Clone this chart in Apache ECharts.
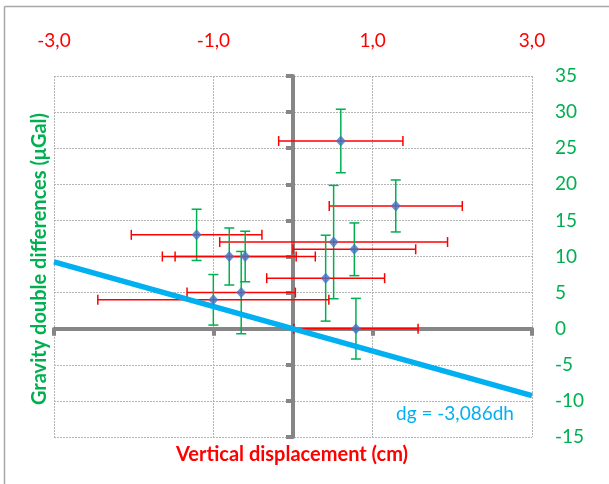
<!DOCTYPE html>
<html>
<head>
<meta charset="utf-8">
<script src="https://cdn.jsdelivr.net/npm/echarts@6/dist/echarts.min.js"></script>
<style>
  html, body { margin: 0; padding: 0; background: #fff; }
  #chart { width: 609px; height: 484px; }
</style>
</head>
<body>
<div id="chart"></div>
<script>
// vertical displacement (cm) and its error
const dh    = [0.60, 1.29, -1.21, 0.51, 0.77, -0.80, -0.60, 0.41, -0.65, -1.00, 0.79];
const dhErr = [0.78, 0.835, 0.82, 1.43, 0.77, 0.84, 0.88, 0.74, 0.68, 1.45, 0.78];
// gravity double differences (uGal) and its error
const dg    = [26, 17, 13, 12, 11, 10, 10, 7, 5, 4, 0];
const dgErr = [4.4, 3.6, 3.55, 7.85, 3.65, 3.95, 3.5, 5.95, 5.7, 3.5, 4.2];
// fitted line dg = slope * dh
const slope = -3.086;
const fitX = [-3, 3];

const RED = '#ff0000', GREEN = '#00b050', GRAY = '#868686';
const FONT = 'Lato';

let points = dh.map((x, i) => [x, dg[i], dhErr[i], dgErr[i]]);
let fitLine = fitX.map(x => [x, slope * x]);

let chart = echarts.init(document.getElementById('chart'));

//画误差棒
function renderErr(params, api) {
    let x = api.value(0), y = api.value(1), ex = api.value(2), ey = api.value(3);
    let c = api.coord([x, y]);
    let l = api.coord([x - ex, y]), r = api.coord([x + ex, y]);
    let t = api.coord([x, y + ey]), b = api.coord([x, y - ey]);
    let cap = 5;
    let red = { stroke: RED, lineWidth: 1.5 };
    let green = { stroke: GREEN, lineWidth: 1.5 };
    return {
        type: 'group',
        children: [
            { type: 'line', shape: { x1: c[0], y1: t[1], x2: c[0], y2: b[1] }, style: green },
            { type: 'line', shape: { x1: c[0] - cap, y1: t[1], x2: c[0] + cap, y2: t[1] }, style: green },
            { type: 'line', shape: { x1: c[0] - cap, y1: b[1], x2: c[0] + cap, y2: b[1] }, style: green },
            { type: 'line', shape: { x1: l[0], y1: c[1], x2: r[0], y2: c[1] }, style: red },
            { type: 'line', shape: { x1: l[0], y1: c[1] - cap, x2: l[0], y2: c[1] + cap }, style: red },
            { type: 'line', shape: { x1: r[0], y1: c[1] - cap, x2: r[0], y2: c[1] + cap }, style: red }
        ]
    };
}

let dotted = { color: '#b4b4b4', width: 1, type: [2, 1] };

chart.setOption({
    animation: false,
    grid: { left: 54, right: 77, top: 76, bottom: 47 },
    xAxis: [
        {
            type: 'value', position: 'top', min: -3, max: 3, interval: 2,
            axisLine: { show: false, onZero: false },
            axisTick: { show: false },
            axisLabel: {
                color: RED, fontSize: 19, fontFamily: FONT, margin: 26,
                formatter: v => v.toFixed(1).replace('.', ',')
            },
            splitLine: { show: true, lineStyle: dotted }
        },
        {
            type: 'value', position: 'bottom', min: -3, max: 3, interval: 2,
            axisLine: { show: true, onZero: true, lineStyle: { color: GRAY, width: 4 } },
            axisTick: { show: true, length: 7, lineStyle: { color: GRAY, width: 4 } },
            axisLabel: { show: false },
            splitLine: { show: false }
        }
    ],
    yAxis: [
        {
            type: 'value', position: 'right', min: -15, max: 35, interval: 5,
            axisLine: { show: false, onZero: false },
            axisTick: { show: false },
            axisLabel: { color: GREEN, fontSize: 19, fontFamily: FONT, margin: 23 },
            splitLine: { show: true, lineStyle: dotted }
        },
        {
            type: 'value', position: 'left', min: -15, max: 35, interval: 5,
            axisLine: { show: true, onZero: true, lineStyle: { color: GRAY, width: 4 } },
            axisTick: { show: true, length: 7, lineStyle: { color: GRAY, width: 4 } },
            axisLabel: { show: false },
            splitLine: { show: false }
        }
    ],
    series: [
        {
            type: 'custom', xAxisIndex: 0, yAxisIndex: 0, z: 3,
            renderItem: renderErr,
            encode: { x: 0, y: 1 },
            data: points
        },
        {
            type: 'line', xAxisIndex: 0, yAxisIndex: 0, z: 4,
            data: fitLine, showSymbol: false, symbol: 'none',
            lineStyle: { color: '#00b0f0', width: 5.5 }
        },
        {
            type: 'scatter', xAxisIndex: 0, yAxisIndex: 0, z: 5,
            data: points.map(p => [p[0], p[1]]),
            symbol: 'diamond', symbolSize: [10, 11],
            itemStyle: { color: '#4472c4' }
        }
    ],
    graphic: [
        { type: 'line', shape: { x1: 4.5, y1: 6.5, x2: 609, y2: 6.5 }, style: { stroke: '#a8a8a8', lineWidth: 1.5 } },
        { type: 'line', shape: { x1: 4.5, y1: 6.5, x2: 4.5, y2: 484 }, style: { stroke: '#a8a8a8', lineWidth: 1.5 } },
        {
            type: 'text', x: 292, y: 455,
            style: { text: 'Vertical displacement (cm)', fill: RED, font: 'bold 20px Lato', align: 'center', verticalAlign: 'middle' }
        },
        {
            type: 'text', x: 40, y: 259, rotation: Math.PI / 2,
            style: { text: 'Gravity double differences (μGal)', fill: GREEN, font: 'bold 20px Lato', align: 'center', verticalAlign: 'middle' }
        },
        {
            type: 'text', x: 396, y: 414,
            style: { text: 'dg = -3,086dh', fill: '#00b0f0', font: '19px Lato', align: 'left', verticalAlign: 'middle' }
        }
    ]
});
</script>
</body>
</html>
